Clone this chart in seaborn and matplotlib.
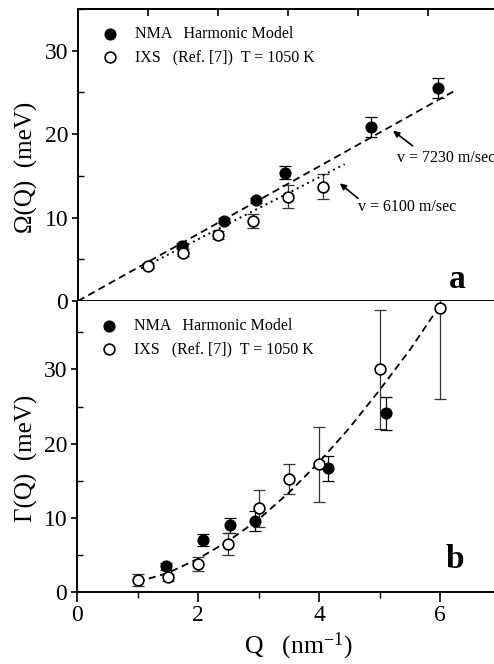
import matplotlib
matplotlib.use("Agg")
import matplotlib.pyplot as plt
from matplotlib.ticker import MultipleLocator
import seaborn as sns

# ---- panel a: dispersion Omega(Q) ----
nma_q_a = [1.48, 2.09, 2.54, 2.95, 4.19, 5.14]
nma_omega = [6.6, 9.6, 12.1, 15.4, 20.9, 25.5]
nma_omega_err = [0.3, 0.3, 0.3, 0.8, 1.2, 1.2]

ixs_q_a = [1.0, 1.5, 2.0, 2.5, 3.0, 3.5]
ixs_omega = [4.2, 5.8, 7.9, 9.6, 12.5, 13.7]
ixs_omega_err = [0.3, 0.4, 0.5, 0.8, 1.4, 1.5]

# sound velocity lines (end points)
fit_7230_q = [0.0, 5.36]
fit_7230_omega = [0.0, 25.1]
fit_6100_q = [0.9, 3.81]
fit_6100_omega = [3.9, 16.4]

# ---- panel b: damping Gamma(Q) ----
nma_q_b = [1.47, 2.08, 2.53, 2.94, 4.15, 5.10]
nma_gamma = [3.5, 7.0, 9.0, 9.6, 16.7, 24.1]
nma_gamma_err = [0.5, 0.8, 1.0, 1.3, 1.7, 2.2]

ixs_q_b = [1.0, 1.5, 2.0, 2.5, 3.0, 3.5, 4.0, 5.0, 6.0]
ixs_gamma = [1.7, 2.0, 3.8, 6.5, 11.3, 15.2, 17.2, 30.0, 38.2]
ixs_gamma_err = [0.8, 0.5, 1.0, 1.5, 2.5, 2.0, 5.0, 8.0, 12.2]

fit_gamma_q = [1.0, 1.5, 2.0, 2.5, 3.0, 3.5, 4.0, 4.5, 5.0, 5.5, 6.0]
fit_gamma = [1.4, 2.6, 4.5, 6.9, 9.8, 13.4, 17.5, 22.1, 27.2, 32.6, 38.6]

LABEL_NMA = "NMA   Harmonic Model"
LABEL_IXS = "IXS   (Ref. [7])  T = 1050 K"

sns.set_theme(style="ticks")
plt.rcParams["font.family"] = ["Liberation Serif", "DejaVu Serif"]
plt.rcParams["mathtext.fontset"] = "custom"
plt.rcParams["mathtext.rm"] = "Liberation Serif"
plt.rcParams["mathtext.it"] = "Liberation Serif:italic"
plt.rcParams["axes.linewidth"] = 1.4
for key in ["text.color", "axes.labelcolor", "axes.edgecolor",
            "xtick.color", "ytick.color"]:
    plt.rcParams[key] = "black"

fig = plt.figure(figsize=(4.94, 6.64), dpi=100)
ax_a = fig.add_axes([78 / 494, 363 / 664, 420 / 494, 292 / 664])
ax_b = fig.add_axes([77 / 494, 71.7 / 664, 423.5 / 494, 291.3 / 664])


def draw_points(ax, q_nma, v_nma, e_nma, q_ixs, v_ixs, e_ixs):
    ax.errorbar(q_nma, v_nma, yerr=e_nma, fmt="none", ecolor="black",
                elinewidth=0.9, capsize=4.5, capthick=0.9, zorder=2, clip_on=False)
    ax.errorbar(q_ixs, v_ixs, yerr=e_ixs, fmt="none", ecolor="#333333",
                elinewidth=0.9, capsize=4.5, capthick=0.9, zorder=2)
    sns.scatterplot(x=q_nma, y=v_nma, ax=ax, color="black", edgecolor="black",
                    s=60, linewidth=1.0, label=LABEL_NMA, zorder=4, clip_on=False)
    sns.scatterplot(x=q_ixs, y=v_ixs, ax=ax, color="white", edgecolor="black",
                    s=60, linewidth=1.2, label=LABEL_IXS, zorder=4, clip_on=False)
    ax.legend(loc="upper left", bbox_to_anchor=(0.057, 0.941), frameon=False,
              fontsize=11.5, handlelength=1.0, handletextpad=1.05,
              labelspacing=0.45, borderpad=0, borderaxespad=0)


# panel a
sns.lineplot(x=fit_7230_q, y=fit_7230_omega, ax=ax_a, color="black",
             linewidth=1.3, linestyle=(0, (4, 2.5)), zorder=3)
sns.lineplot(x=fit_6100_q, y=fit_6100_omega, ax=ax_a, color="black",
             linewidth=1.4, linestyle=(0, (1, 2)), zorder=3)
draw_points(ax_a, nma_q_a, nma_omega, nma_omega_err,
            ixs_q_a, ixs_omega, ixs_omega_err)

ax_a.annotate("", xy=(4.50, 20.4), xytext=(4.78, 18.6),
              arrowprops=dict(arrowstyle="-|>", color="black", lw=1.2,
                              mutation_scale=9, shrinkA=0, shrinkB=0))
ax_a.text(4.55, 17.2, "v = 7230 m/sec", fontsize=11.5, va="center", ha="left")
ax_a.annotate("", xy=(3.74, 14.1), xytext=(4.0, 12.3),
              arrowprops=dict(arrowstyle="-|>", color="black", lw=1.2,
                              mutation_scale=9, shrinkA=0, shrinkB=0))
ax_a.text(4.0, 11.3, "v = 6100 m/sec", fontsize=11.5, va="center", ha="left")
ax_a.text(0.902, 0.075, "a", transform=ax_a.transAxes, fontsize=24,
          fontweight="bold", ha="center", va="center")

ax_a.set_xlim(0, 6)
ax_a.set_ylim(0, 35)
ax_a.xaxis.set_major_locator(MultipleLocator(1))
ax_a.yaxis.set_major_locator(MultipleLocator(10))
ax_a.yaxis.set_minor_locator(MultipleLocator(5))
ax_a.tick_params(axis="x", which="major", direction="out", length=6, width=1.2,
                 labelbottom=False)
ax_a.tick_params(axis="y", which="major", direction="out", length=4, width=1.2,
                 labelsize=17, pad=3)
ax_a.tick_params(axis="y", which="minor", direction="in", length=4, width=1.0)
sec = ax_a.secondary_xaxis("top")
sec.xaxis.set_major_locator(MultipleLocator(1))
sec.tick_params(direction="in", length=5, width=1.2, labeltop=False)
sec.spines["top"].set_linewidth(1.4)
ax_a.spines["right"].set_visible(False)
ax_a.set_xlabel("")
ax_a.set_ylabel("Ω(Q)  (meV)", fontsize=18)
ax_a.yaxis.set_label_coords(-0.095, 0.459)

# panel b
sns.lineplot(x=fit_gamma_q, y=fit_gamma, ax=ax_b, color="black",
             linewidth=1.3, linestyle=(0, (4, 2.5)), zorder=3)
draw_points(ax_b, nma_q_b, nma_gamma, nma_gamma_err,
            ixs_q_b, ixs_gamma, ixs_gamma_err)
ax_b.text(0.893, 0.112, "b", transform=ax_b.transAxes, fontsize=24,
          fontweight="bold", ha="center", va="center")

ax_b.set_xlim(0, 7)
ax_b.set_ylim(0, 39.2)
ax_b.xaxis.set_major_locator(MultipleLocator(2))
ax_b.xaxis.set_minor_locator(MultipleLocator(1))
ax_b.yaxis.set_major_locator(MultipleLocator(10))
ax_b.yaxis.set_minor_locator(MultipleLocator(5))
ax_b.tick_params(axis="x", which="major", direction="out", length=7, width=1.2,
                 labelsize=17, pad=2)
ax_b.tick_params(axis="x", which="minor", direction="out", length=4, width=1.0)
ax_b.tick_params(axis="y", which="major", direction="out", length=4, width=1.2,
                 labelsize=17, pad=3)
ax_b.tick_params(axis="y", which="minor", direction="in", length=4, width=1.0)
ax_b.spines["right"].set_visible(False)
ax_b.spines["top"].set_visible(False)
ax_b.set_xlabel("Q   (nm$^{-1}$)", fontsize=18.5)
ax_b.xaxis.set_label_coords(0.522, -0.133)
ax_b.set_ylabel("Γ(Q)  (meV)", fontsize=18)
ax_b.yaxis.set_label_coords(-0.092, 0.46)

fig.savefig("out.png", dpi=100)
